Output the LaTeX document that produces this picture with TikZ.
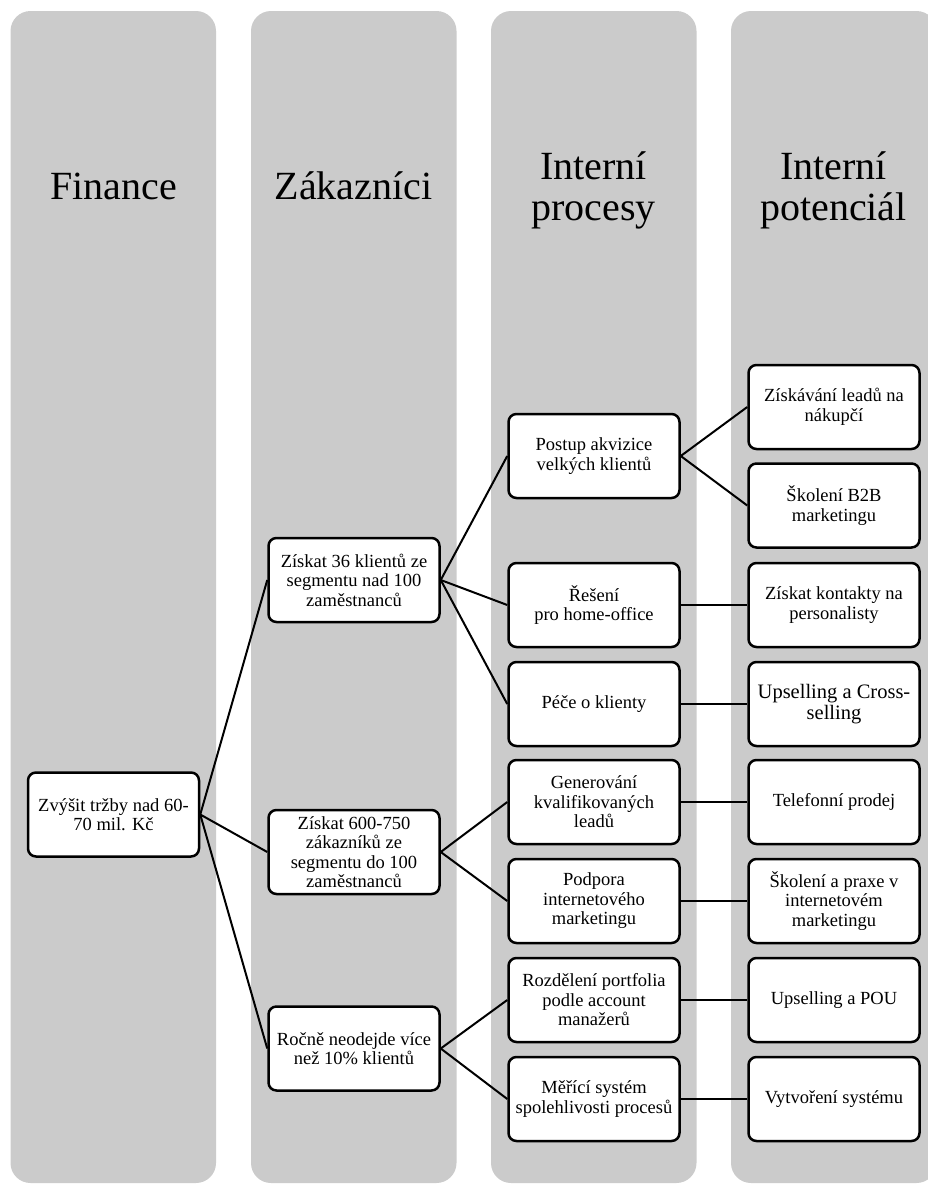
\documentclass[tikz,border=0pt]{standalone}
\usepackage{fontspec}
\setmainfont{Liberation Serif}
\definecolor{panelgray}{RGB}{203,203,203}
\begin{document}
\begin{tikzpicture}[x=1pt,y=-1pt,
  panel/.style={fill=panelgray, draw=none, rounded corners=20pt},
  head/.style={font=\fontsize{40}{41}\selectfont, align=center, anchor=base, inner sep=0pt},
  box/.style={draw=black, line width=2.5pt, fill=white, rounded corners=8pt,
    minimum width=171pt, minimum height=84pt, inner sep=0pt, align=center,
    font=\fontsize{18.5}{19.5}\selectfont},
  bigbox/.style={box, font=\fontsize{20.5}{20.5}\selectfont},
  link/.style={line width=2pt}]
\useasboundingbox (0,0) rectangle (928,1184);
\clip (0,0) rectangle (928,1184);

% four perspective columns
\fill[panel] (10.5,11) rectangle (216,1183);
\fill[panel] (251,11) rectangle (456.5,1183);
\fill[panel] (491,11) rectangle (696.5,1183);
\fill[panel] (731,11) rectangle (936.5,1183);

% column headings
\node[head] (h1) at (113.5,199) {Finance};
\node[head] (h2) at (353.5,199) {Zákazníci};
\node[head] (h3) at (593.5,220) {Interní\\procesy};
\node[head] (h4) at (833.5,220) {Interní\\potenciál};

% finance goal
\node[box] (f1) at (113.5,814.5) {Zvýšit tržby nad 60-\\70 mil. Kč};

% customer goals
\node[box] (c1) at (354,580) {Získat 36 klientů ze\\segmentu nad 100\\zaměstnanců};
\node[box] (c2) at (354,852) {Získat 600-750\\zákazníků ze\\segmentu do 100\\zaměstnanců};
\node[box] (c3) at (354,1048.5) {Ročně neodejde více\\než 10\% klientů};

% internal processes
\node[box] (p1) at (594,456) {Postup akvizice\\velkých klientů};
\node[box] (p2) at (594,605) {Řešení\\pro home-office};
\node[box] (p3) at (594,704) {Péče o klienty};
\node[box] (p4) at (594,802) {Generování\\kvalifikovaných\\leadů};
\node[box] (p5) at (594,901) {Podpora\\internetového\\marketingu};
\node[box] (p6) at (594,1000) {Rozdělení portfolia\\podle account\\manažerů};
\node[box] (p7) at (594,1099) {Měřící systém\\spolehlivosti procesů};

% internal potential
\node[box] (l1) at (834,407) {Získávání leadů na\\nákupčí};
\node[box] (l2) at (834,505.5) {Školení B2B\\marketingu};
\node[box] (l3) at (834,605) {Získat kontakty na\\personalisty};
\node[bigbox] (l4) at (834,704) {Upselling a Cross-\\selling};
\node[box] (l5) at (834,802) {Telefonní prodej};
\node[box] (l6) at (834,901) {Školení a praxe v\\internetovém\\marketingu};
\node[box] (l7) at (834,1000) {Upselling a POU};
\node[box] (l8) at (834,1099) {Vytvoření systému};

% connectors
\foreach \a/\b in {f1/c1, f1/c2, f1/c3,
                   c1/p1, c1/p2, c1/p3, c2/p4, c2/p5, c3/p6, c3/p7,
                   p1/l1, p1/l2, p2/l3, p3/l4, p4/l5, p5/l6, p6/l7, p7/l8}
  \draw[link] (\a.east) -- (\b.west);
\end{tikzpicture}
\end{document}
